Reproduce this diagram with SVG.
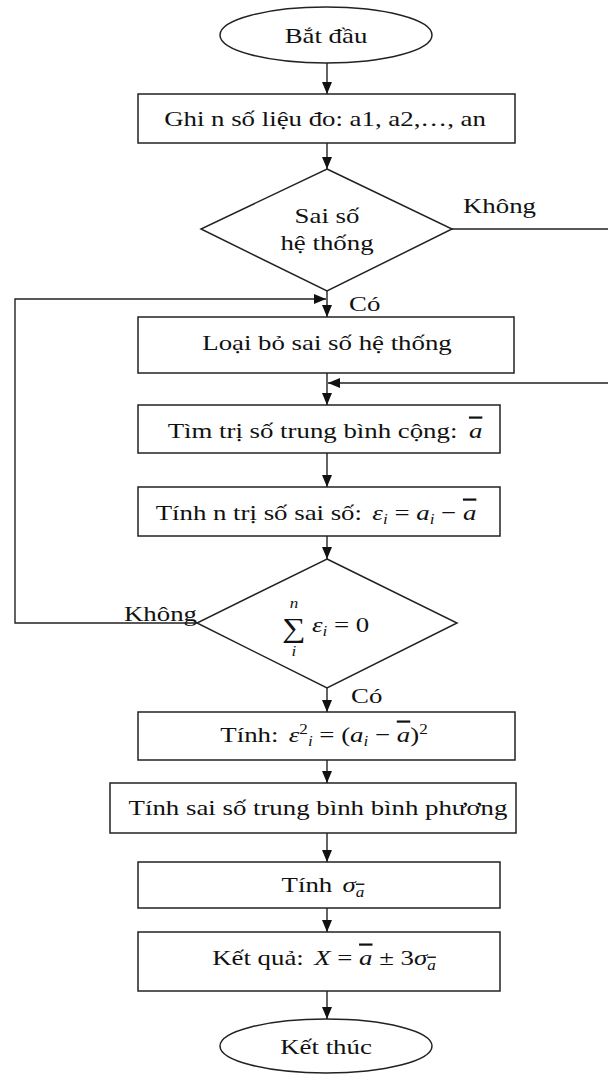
<svg xmlns="http://www.w3.org/2000/svg" width="608" height="1074" viewBox="0 0 608 1074">
  <defs>
    <style>
      .box { fill: #fff; stroke: #222; stroke-width: 1.5; }
      .edge { fill: none; stroke: #222; stroke-width: 1.4; }
      .t { font-family: "Liberation Serif", "Times New Roman", serif; font-size: 22px; fill: #111; }
      .c { text-anchor: middle; }
      .m { font-style: italic; }
      .s { font-size: 14px; }
      .big { font-size: 27px; }
    </style>
    <marker id="arr" viewBox="0 0 12 10" refX="12" refY="5" markerWidth="12" markerHeight="10" markerUnits="userSpaceOnUse" orient="auto">
      <path d="M0,0 L12,5 L0,10 z" fill="#111"/>
    </marker>
  </defs>

  <rect width="608" height="1074" fill="#fff"/>

  <!-- nodes -->
  <g id="start">
    <ellipse class="box" cx="326" cy="35" rx="106" ry="28"/>
    <text class="t c" transform="translate(326,43) scale(1.22,1)">Bắt đầu</text>
  </g>

  <g id="input">
    <rect class="box" x="138" y="94" width="377" height="49"/>
    <text class="t c" transform="translate(325,126) scale(1.22,1)">Ghi n số liệu đo: a1, a2,…, an</text>
  </g>

  <g id="check-systematic">
    <polygon class="box" points="327,169 452,229 327,291 201,229"/>
    <text class="t c" transform="translate(327,223) scale(1.22,1)">Sai số</text>
    <text class="t c" transform="translate(327,250) scale(1.22,1)">hệ thống</text>
  </g>

  <g id="remove-systematic">
    <rect class="box" x="138" y="317" width="376" height="56"/>
    <text class="t c" transform="translate(327,350) scale(1.22,1)">Loại bỏ sai số hệ thống</text>
  </g>

  <g id="mean">
    <rect class="box" x="138" y="405" width="362" height="48"/>
    <text class="t c" transform="translate(325,438) scale(1.22,1)">Tìm trị số trung bình cộng: <tspan class="m" dx="4" text-decoration="overline">a</tspan></text>
  </g>

  <g id="deviations">
    <rect class="box" x="138" y="487" width="362" height="49"/>
    <text class="t c" transform="translate(316,520) scale(1.22,1)">Tính n trị số sai số: <tspan class="m" dx="3">ε</tspan><tspan class="m s" dy="4">i</tspan><tspan dy="-4"> = </tspan><tspan class="m">a</tspan><tspan class="m s" dy="4">i</tspan><tspan dy="-4"> − </tspan><tspan class="m" text-decoration="overline">a</tspan></text>
  </g>

  <g id="check-sum">
    <polygon class="box" points="327,559 457,623 327,688 197,623"/>
    <text class="t c big" transform="translate(294,637) scale(1.22,1)">∑</text>
    <text class="t c m s" transform="translate(294,608) scale(1.22,1)">n</text>
    <text class="t c m s" transform="translate(294,656) scale(1.22,1)">i</text>
    <text class="t" transform="translate(312,632) scale(1.22,1)"><tspan class="m">ε</tspan><tspan class="m s" dy="4">i</tspan><tspan dy="-4"> = 0</tspan></text>
  </g>

  <g id="squares">
    <rect class="box" x="138" y="712" width="377" height="48"/>
    <text class="t c" transform="translate(324,742) scale(1.22,1)">Tính: <tspan class="m" dx="3">ε</tspan><tspan class="s" dy="-8">2</tspan><tspan class="m s" dy="12">i</tspan><tspan dy="-4"> = (</tspan><tspan class="m">a</tspan><tspan class="m s" dy="4">i</tspan><tspan dy="-4"> − </tspan><tspan class="m" text-decoration="overline">a</tspan><tspan>)</tspan><tspan class="s" dy="-8">2</tspan></text>
  </g>

  <g id="rms">
    <rect class="box" x="110" y="783" width="406" height="50"/>
    <text class="t c" transform="translate(318,815) scale(1.22,1)">Tính sai số trung bình bình phương</text>
  </g>

  <g id="sigma">
    <rect class="box" x="138" y="862" width="362" height="46"/>
    <text class="t c" transform="translate(323,892) scale(1.22,1)">Tính <tspan class="m" dx="3">σ</tspan><tspan class="m s" dy="5" text-decoration="overline">a</tspan></text>
  </g>

  <g id="result">
    <rect class="box" x="138" y="932" width="362" height="59"/>
    <text class="t c" transform="translate(324,965) scale(1.22,1)">Kết quả: <tspan class="m" dx="3">X</tspan><tspan> = </tspan><tspan class="m" text-decoration="overline">a</tspan><tspan> ± 3</tspan><tspan class="m">σ</tspan><tspan class="m s" dy="5" text-decoration="overline">a</tspan></text>
  </g>

  <g id="end">
    <ellipse class="box" cx="326" cy="1046" rx="106" ry="27"/>
    <text class="t c" transform="translate(326,1054) scale(1.22,1)">Kết thúc</text>
  </g>

  <!-- branch labels -->
  <g id="labels">
    <text class="t" transform="translate(463,213) scale(1.22,1)">Không</text>
    <text class="t" transform="translate(349,311) scale(1.22,1)">Có</text>
    <text class="t" transform="translate(124,621) scale(1.22,1)">Không</text>
    <text class="t" transform="translate(351,703) scale(1.22,1)">Có</text>
  </g>

  <!-- connectors -->
  <g id="connectors">
    <path class="edge" d="M327,63 V94" marker-end="url(#arr)"/>
    <path class="edge" d="M327,143 V169" marker-end="url(#arr)"/>
    <path class="edge" d="M327,291 V317" marker-end="url(#arr)"/>
    <path class="edge" d="M452,229 H614 V383 H328" marker-end="url(#arr)"/>
    <path class="edge" d="M327,373 V405" marker-end="url(#arr)"/>
    <path class="edge" d="M327,453 V487" marker-end="url(#arr)"/>
    <path class="edge" d="M327,536 V559" marker-end="url(#arr)"/>
    <path class="edge" d="M197,623 H15 V299 H326" marker-end="url(#arr)"/>
    <path class="edge" d="M327,688 V712" marker-end="url(#arr)"/>
    <path class="edge" d="M327,760 V783" marker-end="url(#arr)"/>
    <path class="edge" d="M327,833 V862" marker-end="url(#arr)"/>
    <path class="edge" d="M327,908 V932" marker-end="url(#arr)"/>
    <path class="edge" d="M327,991 V1019" marker-end="url(#arr)"/>
  </g>
</svg>
